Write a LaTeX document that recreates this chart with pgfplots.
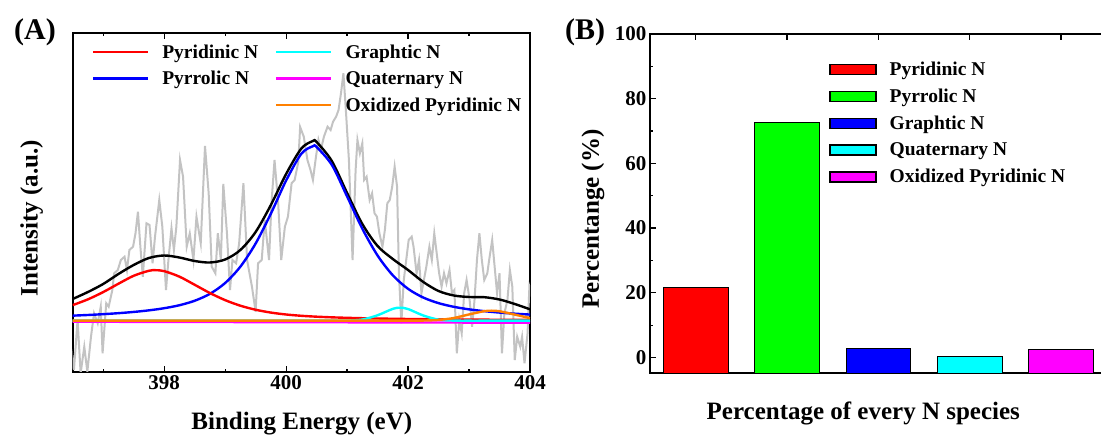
\documentclass[border=0pt]{standalone}
\usepackage{pgfplots}
\pgfplotsset{compat=1.18}
\usepackage{fontspec}
\setmainfont{Liberation Serif}
\definecolor{cred}{RGB}{255,0,0}
\definecolor{cblue}{RGB}{0,0,255}
\definecolor{ccyan}{RGB}{0,255,255}
\definecolor{cmag}{RGB}{255,0,255}
\definecolor{corange}{RGB}{255,128,0}
\definecolor{cgray}{RGB}{195,195,195}
\definecolor{cgreen}{RGB}{0,255,0}
\begin{document}
\begin{tikzpicture}[x=1pt,y=1pt]
% ---------------- Panel A ----------------
\begin{axis}[at={(72.7pt,67pt)}, anchor=south west, scale only axis,
  width=457.3pt, height=339pt,
  xmin=396.5, xmax=404, ymin=0, ymax=339,
  xtick={398,400,402,404}, minor xtick={397,399,401,403}, ytick=\empty,
  xtick pos=both, xticklabel pos=lower,
  tick align=inside, major tick length=6pt, minor tick length=3pt,
  axis line style={line width=1.9pt},
  every tick/.style={black, line width=1.2pt},
  xticklabel style={font=\bfseries\fontsize{21}{21}\selectfont},
  /pgf/number format/assume math mode=true,
  /pgf/number format/1000 sep={},
  xlabel={Binding Energy (eV)}, ylabel={Intensity (a.u.)},
  label style={font=\bfseries\fontsize{25}{25}\selectfont},
  xlabel style={at={(axis description cs:0.501,-0.153)}, anchor=center},
  ylabel style={at={(axis description cs:-0.09,0.454)}, anchor=center},
  legend image code/.code={\draw[#1] (0pt,0pt) -- (55pt,0pt);},
  legend columns=2,
  legend cell align=left,
  legend style={at={(axis description cs:0.035,0.978)}, anchor=north west,
    draw=none, fill=none, font=\bfseries\fontsize{19.5}{19.5}\selectfont,
    row sep=7.5pt,
    /tikz/every odd column/.append style={column sep=11pt},
    /tikz/every even column/.append style={column sep=15pt}},
]
\addlegendimage{cred, line width=2.4pt}\addlegendentry{Pyridinic N}
\addlegendimage{ccyan, line width=2.4pt}\addlegendentry{Graphtic N}
\addlegendimage{cblue, line width=2.4pt}\addlegendentry{Pyrrolic N}
\addlegendimage{cmag, line width=2.4pt}\addlegendentry{Quaternary N}
\addlegendimage{empty legend}\addlegendentry{}
\addlegendimage{corange, line width=2.4pt}\addlegendentry{Oxidized Pyridinic N}

% raw data
\addplot[cgray, line width=2pt, forget plot] coordinates {
(396.47,28.7) (396.52,2) (396.58,52) (396.63,-1.3) (396.69,25.3) (396.74,0.3)
(396.80,35.3) (396.85,58.7) (396.91,48.7) (396.96,65.3) (396.99,18.7) (397.05,68.7)
(397.09,65.3) (397.15,82) (397.18,98.7) (397.24,102) (397.29,112) (397.35,115.3)
(397.39,102) (397.43,122) (397.49,125.3) (397.53,138.7) (397.57,160.3) (397.61,125.3)
(397.65,95.3) (397.71,148.7) (397.76,147) (397.81,108.7) (397.85,135.3) (397.92,172)
(397.97,145.3) (398.03,82) (398.07,112) (398.12,143.7) (398.16,122) (398.20,145.3)
(398.26,212) (398.31,195.3) (398.37,125.3) (398.42,138.7) (398.48,112) (398.53,155.3)
(398.60,128.7) (398.67,226) (398.73,178.7) (398.78,105.3) (398.84,98.7) (398.88,138.7)
(398.93,112) (398.97,188) (399.03,138.7) (399.08,82) (399.12,112) (399.18,108.7)
(399.23,128.7) (399.30,188.7) (399.36,112) (399.44,85.3) (399.50,60.3) (399.54,108.7)
(399.60,112) (399.65,152) (399.72,112) (399.76,168.7) (399.81,212) (399.87,168.7)
(399.92,112) (399.98,145.3) (400.03,155.3) (400.09,188.7) (400.14,192) (400.20,210)
(400.23,245) (400.29,235.3) (400.35,212) (400.40,202) (400.44,192) (400.49,215.3)
(400.53,232) (400.57,222) (400.62,235.3) (400.68,245.3) (400.73,242) (400.77,250.3)
(400.82,255.3) (400.86,262) (400.90,278.7) (400.94,298.7) (400.98,262) (401.03,212)
(401.06,162) (401.09,112) (401.14,202) (401.17,232) (401.21,218.7) (401.25,228.7)
(401.28,192) (401.32,195.3) (401.37,172) (401.41,178.7) (401.45,158.7) (401.49,155.3)
(401.53,138.7) (401.58,125.3) (401.62,142) (401.66,168.7) (401.70,172) (401.74,185.3)
(401.78,205.3) (401.82,185.3) (401.85,98.7) (401.89,48.7) (401.93,92) (401.97,112)
(402.01,132) (402.06,135.3) (402.09,125.3) (402.14,98.7) (402.18,112) (402.22,78.7)
(402.26,92) (402.30,105.3) (402.35,125.3) (402.39,112) (402.43,138.7) (402.47,118.7)
(402.51,98.7) (402.55,85.3) (402.59,98.7) (402.63,88.7) (402.68,102) (402.72,78.7)
(402.76,82) (402.80,18.7) (402.84,52) (402.88,38.7) (402.92,78.7) (402.96,92)
(403.01,72) (403.05,45.3) (403.09,72) (403.13,112) (403.17,138.7) (403.21,112)
(403.25,92) (403.30,98.7) (403.33,112) (403.38,132) (403.42,105.3) (403.46,78.7)
(403.50,98.7) (403.54,18.7) (403.58,58.7) (403.63,72) (403.67,102) (403.71,85.3)
(403.75,12) (403.79,35.3) (403.84,25.3) (403.87,35.3) (403.91,8.7) (403.96,38.7)
(403.99,85.3) (404.02,78.7)
};
% envelope
\addplot[black, line width=2.4pt, smooth, forget plot] coordinates {
(396.5,73) (396.75,80) (397.0,88) (397.25,98) (397.5,107) (397.75,114) (398.0,116.5)
(398.25,114.5) (398.5,111) (398.75,109.5) (399.0,112.5) (399.25,122) (399.5,140)
(399.75,167) (400.0,198) (400.25,223.5) (400.44,231) (400.5,230) (400.75,211)
(401.0,179) (401.25,148) (401.5,126) (401.75,113) (402.0,102) (402.25,90)
(402.5,81) (402.75,76.5) (403.0,75) (403.25,74.8) (403.5,72.5) (403.75,68) (404.0,62.7)
};
% Pyrrolic N
\addplot[cblue, line width=2.4pt, smooth, forget plot] coordinates {
(396.5,56.35) (396.75,57.01) (397.0,57.83) (397.25,58.82) (397.5,60.06) (397.75,61.65)
(398.0,63.78) (398.25,66.76) (398.5,71.23) (398.75,78.14) (399.0,88.97) (399.25,105.33)
(399.5,128.48) (399.75,158.36) (400.0,191.46) (400.25,218.3) (400.44,225.8) (400.5,225.0)
(400.75,207.1) (401.0,175.6) (401.25,143.3) (401.5,116.48) (401.75,96.69) (402.0,83.18)
(402.25,74.44) (402.5,68.85) (402.75,65.19) (403.0,62.66) (403.25,60.84) (403.5,59.43)
(403.75,58.32) (404.0,57.42)
};
% Pyridinic N
\addplot[cred, line width=2.4pt, smooth, forget plot] coordinates {
(396.5,66.89) (396.75,72.65) (397.0,79.93) (397.25,88.26) (397.5,96.22) (397.75,101.22)
(397.86,101.8) (398.0,100.88) (398.25,95.36) (398.5,87.24) (398.75,78.99) (399.0,71.87)
(399.25,66.3) (399.5,62.25) (399.75,59.42) (400.0,57.5) (400.25,56.2) (400.5,55.31)
(400.75,54.66) (401.0,54.17) (401.25,53.79) (401.5,53.48) (401.75,53.22) (402.0,53.01)
(402.25,52.83) (402.5,52.67) (402.75,52.54) (403.0,52.43) (403.25,52.33) (403.5,52.24)
(403.75,52.17) (404.0,52.1)
};
% Quaternary N
\addplot[cmag, line width=2.4pt, forget plot] coordinates {
(396.5,50.3) (404.0,49.3)
};
% Graphtic N
\addplot[ccyan, line width=2.4pt, smooth, forget plot] coordinates {
(396.5,51.3) (400.5,51.3) (400.75,51.3) (401.0,51.4) (401.25,52.43) (401.5,56.74)
(401.75,63.16) (401.87,64.3) (402.0,62.97) (402.25,56.49) (402.5,52.34) (402.75,51.39)
(403.0,51.3) (403.25,51.3) (404.0,51.3)
};
% Oxidized Pyridinic N
\addplot[corange, line width=2.4pt, smooth, forget plot] coordinates {
(396.5,51.3) (401.5,51.3) (401.75,51.3) (402.0,51.32) (402.25,51.44) (402.5,52.05)
(402.75,53.98) (403.0,57.56) (403.25,60.82) (403.37,61.3) (403.5,60.74) (403.75,57.4)
(404.0,53.87)
};
\end{axis}

% ---------------- Panel B ----------------
\begin{axis}[at={(650pt,66pt)}, anchor=south west, scale only axis,
  width=456.7pt, height=339pt,
  xmin=0.5, xmax=5.5, ymin=-4.8, ymax=100,
  xtick={1,2,3,4,5}, xticklabels={}, xtick pos=both,
  ytick={0,20,40,60,80,100}, minor ytick={10,30,50,70,90}, ytick pos=left,
  tick align=inside, major tick length=6pt, minor tick length=3pt,
  axis line style={line width=1.9pt},
  every tick/.style={black, line width=1.2pt},
  yticklabel style={font=\bfseries\fontsize{21}{21}\selectfont},
  /pgf/number format/assume math mode=true,
  xlabel={Percentage of every N species}, ylabel={Percentange (\%)},
  label style={font=\bfseries\fontsize{25}{25}\selectfont},
  xlabel style={at={(axis description cs:0.467,-0.118)}, anchor=center},
  ylabel style={at={(axis description cs:-0.125,0.454)}, anchor=center},
  legend cell align=left,
  legend style={at={(axis description cs:0.385,0.93)}, anchor=north west,
    draw=none, fill=none, font=\bfseries\fontsize{19.5}{19.5}\selectfont,
    row sep=8pt,
    /tikz/every odd column/.append style={column sep=11pt}},
]
\addlegendimage{legend image code/.code={\draw[fill=cred,draw=black,line width=1.6pt] (0pt,-5pt) rectangle (46pt,5pt);}}\addlegendentry{Pyridinic N}
\addlegendimage{legend image code/.code={\draw[fill=cgreen,draw=black,line width=1.6pt] (0pt,-5pt) rectangle (46pt,5pt);}}\addlegendentry{Pyrrolic N}
\addlegendimage{legend image code/.code={\draw[fill=cblue,draw=black,line width=1.6pt] (0pt,-5pt) rectangle (46pt,5pt);}}\addlegendentry{Graphtic N}
\addlegendimage{legend image code/.code={\draw[fill=ccyan,draw=black,line width=1.6pt] (0pt,-5pt) rectangle (46pt,5pt);}}\addlegendentry{Quaternary N}
\addlegendimage{legend image code/.code={\draw[fill=cmag,draw=black,line width=1.6pt] (0pt,-5pt) rectangle (46pt,5pt);}}\addlegendentry{Oxidized Pyridinic N}

\addplot[fill=cred, draw=black, line width=0.8pt, forget plot] coordinates {(0.647,-4.8) (0.647,21.8) (1.353,21.8) (1.353,-4.8)} -- cycle;
\addplot[fill=cgreen, draw=black, line width=0.8pt, forget plot] coordinates {(1.647,-4.8) (1.647,72.6) (2.353,72.6) (2.353,-4.8)} -- cycle;
\addplot[fill=cblue, draw=black, line width=0.8pt, forget plot] coordinates {(2.647,-4.8) (2.647,2.9) (3.353,2.9) (3.353,-4.8)} -- cycle;
\addplot[fill=ccyan, draw=black, line width=0.8pt, forget plot] coordinates {(3.647,-4.8) (3.647,0.3) (4.353,0.3) (4.353,-4.8)} -- cycle;
\addplot[fill=cmag, draw=black, line width=0.8pt, forget plot] coordinates {(4.647,-4.8) (4.647,2.6) (5.353,2.6) (5.353,-4.8)} -- cycle;
\end{axis}

\node[font=\bfseries\fontsize{30}{30}\selectfont] at (35pt,407pt) {(A)};
\node[font=\bfseries\fontsize{30}{30}\selectfont] at (585pt,407pt) {(B)};

\pgfresetboundingbox
\path[use as bounding box] (0pt,0pt) rectangle (1101pt,439pt);
\end{tikzpicture}
\end{document}
